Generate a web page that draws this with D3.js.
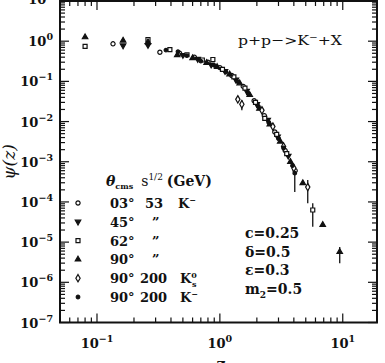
<!DOCTYPE html>
<html><head><meta charset="utf-8">
<script src="https://cdn.jsdelivr.net/npm/d3@7"></script>
<style>body{margin:0;background:#fff}svg{display:block}</style>
</head><body><svg id="c" width="385" height="363"></svg>
<script>
// ---------- data ----------
const xDomain = [0.05, 19];
const yDomain = [1e-7, 10];
const xTickLabels = [[0.1, "−1"], [1, "0"], [10, "1"]];
const yTickLabels = [[10, "1"], [1, "0"], [0.1, "−1"], [0.01, "−2"], [1e-3, "−3"], [1e-4, "−4"], [1e-5, "−5"], [1e-6, "−6"], [1e-7, "−7"]];

// [z, psi, errLow, errHigh]
const s03_53 = [[0.135,0.86],[0.325,0.53],[0.47,0.50],[0.62,0.40],[0.80,0.30],[1.0,0.22],[1.25,0.14],[1.55,0.075],[1.9,0.033],[2.3,0.014],[2.8,0.0055],[3.4,0.0019],[4.1,0.0006]];
const s45_53 = [[0.163,0.78],[0.26,0.80],[0.50,0.45],[0.66,0.36],[0.85,0.26],[1.1,0.18],[1.35,0.11],[1.65,0.058],[2.0,0.027],[2.45,0.011],[2.95,0.0042],[3.6,0.0014]];
const s62_53 = [[0.08,0.74],[0.26,1.10],[0.392,0.62],[0.54,0.46],[0.72,0.34],[0.877,0.35],[1.05,0.20],[1.3,0.13],[1.6,0.068],[1.95,0.030],[2.32,0.012],[2.9,0.0048],[3.5,0.0016],[5.70,6.3e-5,2.4e-5,9.3e-5]];
const s90_53 = [[0.08,1.26],[0.163,1.04],[0.26,0.95],[0.45,0.45],[0.6,0.38],[0.78,0.29],[0.95,0.23],[1.2,0.15],[1.45,0.09],[1.75,0.046],[2.1,0.021],[2.55,0.0085],[3.1,0.0032],[3.75,0.0010],[4.73,2.95e-4],[6.87,2.7e-5],[9.45,5.7e-6,3e-6,7.6e-6]];
const s90_200_K0s = [[1.40,0.0357],[1.51,0.027,0.019,0.034],[2.2,0.019],[2.7,0.0075],[3.3,0.0024],[4.0,0.0007],[5.19,2.34e-4,9.3e-5,3.5e-4]];
const s90_200_Km = [[0.26,0.87],[0.364,0.60],[0.456,0.55],[0.539,0.44],[0.7,0.32],[0.9,0.25],[1.12,0.17],[1.38,0.10],[1.7,0.05],[2.05,0.024],[2.5,0.0095],[3.0,0.0038],[3.3,0.0022],[3.9,0.0008],[4.07,5.2e-4,1.76e-4,6.5e-4]];

const legendAngles = ["03°","45°","62°","90°","90°","90°"];
const legendEnergies = ["53","\u201D","\u201D","\u201D","200","200"];
const paramLabels = [["c","=0.25"],["δ","=0.5"],["ε","=0.3"],["m","=0.5"]];

// ---------- drawing ----------
const svg = d3.select("#c");
const L = 60, R = 377, T = 1, B = 322.5;
const x = d3.scaleLog().domain(xDomain).range([L, R]);
const y = d3.scaleLog().domain(yDomain).range([B, T]);
const font = "'DejaVu Serif', serif";

const series = [
  {data: s03_53, type: d3.symbolCircle, fill: false, size: 14},
  {data: s45_53, type: d3.symbolTriangle, fill: true, size: 13, rot: 180},
  {data: s62_53, type: d3.symbolSquare, fill: false, size: 16},
  {data: s90_53, type: d3.symbolTriangle, fill: true, size: 13},
  {data: s90_200_K0s, type: d3.symbolDiamond, fill: false, size: 16},
  {data: s90_200_Km, type: d3.symbolCircle, fill: true, size: 10}
];

// frame
svg.append("rect").attr("x", L).attr("y", T).attr("width", R - L).attr("height", B - T)
  .attr("fill", "none").attr("stroke", "#111").attr("stroke-width", 2);

// ticks
const g = svg.append("g").attr("stroke", "#111").attr("stroke-width", 1.2);
const isMajor = v => Math.abs(Math.log10(v) - Math.round(Math.log10(v))) < 1e-6;
x.ticks().forEach(v => {
  const px = x(v), len = isMajor(v) ? 9 : 5;
  g.append("line").attr("x1", px).attr("x2", px).attr("y1", B).attr("y2", B - len);
  g.append("line").attr("x1", px).attr("x2", px).attr("y1", T).attr("y2", T + len);
});
y.ticks().forEach(v => {
  const py = y(v), len = isMajor(v) ? 9 : 5;
  g.append("line").attr("x1", L).attr("x2", L + len).attr("y1", py).attr("y2", py);
  g.append("line").attr("x1", R).attr("x2", R - len).attr("y1", py).attr("y2", py);
});

// tick labels
xTickLabels.forEach(([v, e]) => {
  const t = svg.append("text").attr("x", x(v)).attr("y", 348).attr("text-anchor", "middle")
    .attr("font-family", font).attr("font-weight", "bold").attr("font-size", 13).attr("fill", "#111");
  t.append("tspan").text("10");
  t.append("tspan").attr("dy", -6).attr("font-size", 9.5).text(e);
});
yTickLabels.forEach(([v, e]) => {
  const t = svg.append("text").attr("x", 53).attr("y", v === 10 ? 4 : y(v) + 5).attr("text-anchor", "end")
    .attr("font-family", font).attr("font-weight", "bold").attr("font-size", 13).attr("fill", "#111");
  t.append("tspan").text("10");
  t.append("tspan").attr("dy", -6).attr("font-size", 9.5).text(e);
});

// axis titles
svg.append("text").attr("transform", "translate(15,162) rotate(-90)").attr("text-anchor", "middle")
  .attr("font-family", font).attr("font-size", 17).attr("fill", "#111").attr("font-style", "italic").text("ψ(z)");
svg.append("text").attr("x", 221).attr("y", 370).attr("text-anchor", "middle")
  .attr("font-family", font).attr("font-size", 16).attr("font-weight", "bold").attr("fill", "#111").text("z");

// error bars
const eb = svg.append("g").attr("stroke", "#111").attr("stroke-width", 1.3);
series.forEach(s => s.data.filter(d => d.length > 2).forEach(d => {
  eb.append("line").attr("x1", x(d[0])).attr("x2", x(d[0])).attr("y1", y(d[2])).attr("y2", y(d[3]));
}));

// points
series.forEach(s => {
  const sym = d3.symbol().type(s.type).size(s.size);
  svg.append("g").selectAll("path").data(s.data).join("path")
    .attr("d", sym)
    .attr("transform", d => `translate(${x(d[0])},${y(d[1])})` + (s.rot ? ` rotate(${s.rot})` : ""))
    .attr("fill", s.fill ? "#111" : "#fff").attr("stroke", "#111").attr("stroke-width", 1.2);
});

// reaction label
svg.append("text").attr("x", 238).attr("y", 45).attr("font-family", font).attr("font-size", 13.5).attr("fill", "#111")
  .attr("textLength", 104).attr("lengthAdjust", "spacingAndGlyphs")
  .call(t => { t.append("tspan").text("p+p−>K"); t.append("tspan").attr("dy", -5).attr("font-size", 9).text("−"); t.append("tspan").attr("dy", 5).text("+X"); });

// legend header
const hdr = svg.append("text").attr("x", 106).attr("y", 186).attr("font-family", font).attr("font-size", 14).attr("fill", "#111");
hdr.append("tspan").attr("font-style", "italic").attr("font-weight", "bold").text("θ");
hdr.append("tspan").attr("dy", 3).attr("font-size", 8).attr("font-weight", "bold").text("cms");
hdr.append("tspan").attr("dy", -3).attr("dx", 8).text("s");
hdr.append("tspan").attr("dy", -6).attr("font-size", 9).text("1/2");
hdr.append("tspan").attr("dy", 6).attr("dx", 4).attr("font-weight", "bold").text("(GeV)");

// legend rows
const rowY = i => 203 + i * 18.8;
series.forEach((s, i) => {
  const sym = d3.symbol().type(s.type).size(s.size);
  svg.append("path").attr("d", sym)
    .attr("transform", `translate(78,${rowY(i)})` + (s.rot ? ` rotate(${s.rot})` : ""))
    .attr("fill", s.fill ? "#111" : "#fff").attr("stroke", "#111").attr("stroke-width", 1.2);
  const t = svg.append("text").attr("y", rowY(i) + 5).attr("font-family", font).attr("font-size", 13).attr("font-weight", "bold").attr("fill", "#111");
  t.append("tspan").attr("x", 110).text(legendAngles[i]);
  const en = legendEnergies[i];
  if (en === "53") {
    t.append("tspan").attr("x", 145).text("53");
    t.append("tspan").attr("x", 178).text("K");
    t.append("tspan").attr("dy", -5).attr("font-size", 8).text("−");
  } else if (en === "200") {
    t.append("tspan").attr("x", 140).text("200");
    t.append("tspan").attr("x", 180).text("K");
    t.append("tspan").attr("dy", -5).attr("font-size", 8).text(i === 4 ? "0" : "−");
    if (i === 4) t.append("tspan").attr("dx", -5).attr("dy", 9).attr("font-size", 8).text("s");
  } else {
    t.append("tspan").attr("x", 152).text(en);
  }
});

// parameters
paramLabels.forEach(([a, b], i) => {
  const t = svg.append("text").attr("x", 245).attr("y", 238 + i * 18.5).attr("font-family", font).attr("font-size", 14).attr("font-weight", "bold").attr("fill", "#111");
  t.append("tspan").text(a);
  if (a === "m") t.append("tspan").attr("dy", 4).attr("font-size", 9).text("2");
  t.append("tspan").attr("dy", a === "m" ? -4 : 0).text(b);
});
</script>
</body></html>
